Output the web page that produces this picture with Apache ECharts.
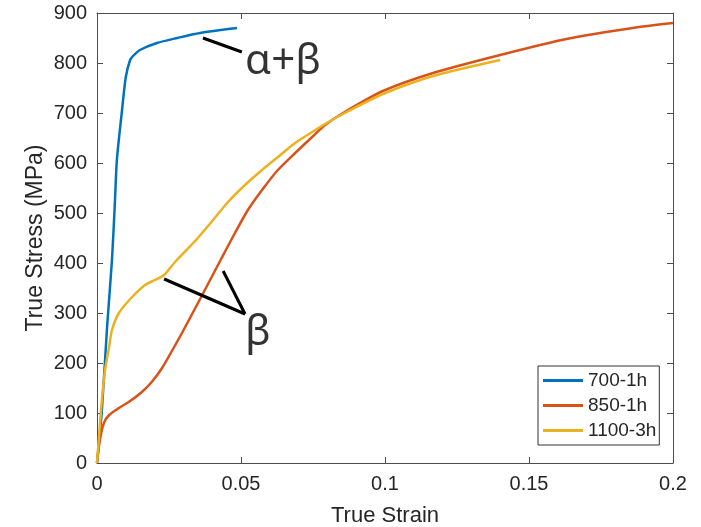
<!DOCTYPE html>
<html>
<head>
<meta charset="utf-8">
<script src="https://cdn.jsdelivr.net/npm/echarts@6/dist/echarts.min.js"></script>
<style>
  html, body { margin: 0; padding: 0; background: #fff; }
  #chart { width: 701px; height: 527px; }
</style>
</head>
<body>
<div id="chart"></div>
<script>
// Tensile curves: true strain vs. true stress (MPa)
const strain700 = [0, 0.0017, 0.0035, 0.0052, 0.00625, 0.0069, 0.0087, 0.010, 0.0115, 0.0125, 0.0149, 0.0208, 0.0278, 0.0358, 0.0486];
const stress700 = [0, 106, 272, 406, 526, 606, 706, 772, 806, 814, 826, 840, 850, 860, 870];

const strain850 = [0, 0.001, 0.0024, 0.0042, 0.0076, 0.011, 0.0156, 0.019, 0.0226, 0.026, 0.0295, 0.0358, 0.0431, 0.0479, 0.0524, 0.0573, 0.0628, 0.0688, 0.0747, 0.0792, 0.086, 0.0993, 0.1167, 0.140, 0.163, 0.186, 0.2];
const stress850 = [0, 46, 80, 96, 110, 122, 142, 162, 190, 224, 260, 328, 408, 460, 506, 546, 586, 620, 652, 676, 702, 744, 780, 816, 848, 870, 880];

const strain1100 = [0, 0.0008, 0.0017, 0.0028, 0.0042, 0.0052, 0.0076, 0.0122, 0.0167, 0.0201, 0.0233, 0.0271, 0.0347, 0.0403, 0.0455, 0.0514, 0.0573, 0.0628, 0.0688, 0.0747, 0.0792, 0.086, 0.0993, 0.1167, 0.140];
const stress1100 = [0, 60, 126, 186, 232, 266, 300, 332, 356, 366, 376, 402, 448, 486, 522, 556, 586, 612, 640, 662, 678, 700, 738, 774, 806];

const seriesNames = ['700-1h', '850-1h', '1100-3h'];
const seriesColors = ['#0072BD', '#D95319', '#EDB120'];

// Phase callouts: leader segments and labels, in strain/stress units
const alphaBetaLeader = [[0.0368, 850], [0.0503, 822]];
const betaLeaderA = [[0.0233, 368], [0.0514, 298]];
const betaLeaderB = [[0.0438, 384], [0.0514, 298]];
const calloutText = ['α+β', 'β'];
const calloutAt = [[0.0646, 802], [0.0559, 260]];

const xTicks = { min: 0, max: 0.2, interval: 0.05 };
const yTicks = { min: 0, max: 900, interval: 100 };

const zip = (xs, ys) => xs.map((x, i) => [x, ys[i]]);

const FONT = '"Liberation Sans", Arial, sans-serif';
const AXIS_COLOR = '#4d4d4d';
const TEXT_COLOR = '#262626';

function curve(name, xs, ys, color) {
  return {
    name: name,
    type: 'line',
    data: zip(xs, ys),
    showSymbol: false,
    symbol: 'none',
    smooth: 0.25,
    lineStyle: { color: color, width: 2.5 },
    itemStyle: { color: color },
    z: 3
  };
}

function leader(points) {
  return {
    type: 'line',
    data: points,
    symbol: 'none',
    silent: true,
    lineStyle: { color: '#000', width: 3 },
    z: 4
  };
}

const chart = echarts.init(document.getElementById('chart'), null, { renderer: 'canvas' });

const frameLine = { show: true, onZero: false, lineStyle: { color: AXIS_COLOR, width: 1 } };
const frameTick = { show: true, inside: true, length: 6, lineStyle: { color: AXIS_COLOR } };

const sideAxis = {
  show: true,
  axisLine: frameLine,
  axisTick: frameTick,
  axisLabel: { show: false },
  splitLine: { show: false }
};

chart.setOption({
  animation: false,
  backgroundColor: '#fff',
  grid: { left: 97, right: 28, top: 13, bottom: 64, containLabel: false, outerBoundsMode: 'none' },
  legend: {
    data: seriesNames,
    orient: 'vertical',
    left: 538,
    top: 366,
    icon: 'rect',
    itemWidth: 40,
    itemHeight: 3,
    itemGap: 6,
    padding: [5, 3, 5, 5],
    backgroundColor: '#fff',
    borderColor: '#333',
    borderWidth: 1,
    borderRadius: 0,
    textStyle: { fontFamily: FONT, fontSize: 19, color: TEXT_COLOR }
  },
  xAxis: [
    Object.assign({
      type: 'value',
      position: 'bottom',
      name: 'True Strain',
      nameLocation: 'middle',
      nameGap: 42,
      nameMoveOverlap: false,
      nameTextStyle: { fontFamily: FONT, fontSize: 22, color: TEXT_COLOR },
      axisLabel: {
        show: true,
        margin: 11,
        fontFamily: FONT,
        fontSize: 20,
        color: TEXT_COLOR,
        formatter: v => String(+v.toFixed(2))
      }
    }, xTicks, {
      axisLine: frameLine,
      axisTick: frameTick,
      splitLine: { show: false }
    }),
    Object.assign({ type: 'value', position: 'top' }, xTicks, sideAxis)
  ],
  yAxis: [
    Object.assign({
      type: 'value',
      position: 'left',
      name: 'True Stress (MPa)',
      nameLocation: 'middle',
      nameGap: 50,
      nameMoveOverlap: false,
      nameTextStyle: { fontFamily: FONT, fontSize: 23, color: TEXT_COLOR },
      axisLabel: {
        show: true,
        margin: 10,
        fontFamily: FONT,
        fontSize: 20,
        color: TEXT_COLOR
      }
    }, yTicks, {
      axisLine: frameLine,
      axisTick: frameTick,
      splitLine: { show: false }
    }),
    Object.assign({ type: 'value', position: 'right' }, yTicks, sideAxis)
  ],
  series: [
    curve(seriesNames[0], strain700, stress700, seriesColors[0]),
    curve(seriesNames[1], strain850, stress850, seriesColors[1]),
    curve(seriesNames[2], strain1100, stress1100, seriesColors[2]),
    leader(alphaBetaLeader),
    leader(betaLeaderA),
    leader(betaLeaderB),
    {
      type: 'scatter',
      silent: true,
      symbolSize: 0,
      data: calloutAt.map((p, i) => ({ value: p, text: calloutText[i] })),
      label: {
        show: true,
        position: 'inside',
        formatter: p => p.data.text,
        fontFamily: '"Noto Sans", "Open Sans", sans-serif',
        fontSize: 42,
        color: '#000'
      },
      z: 5
    }
  ]
});
</script>
</body>
</html>
